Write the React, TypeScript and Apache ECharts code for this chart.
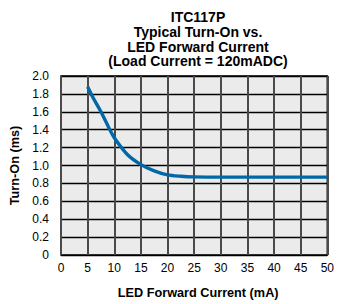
import React, { useEffect, useRef } from "react";
import * as echarts from "echarts";

const titleLines = ["ITC117P", "Typical Turn-On vs.", "LED Forward Current", "(Load Current = 120mADC)"];
const xName = "LED Forward Current (mA)";
const yName = "Turn-On (ms)";
const currentMA = [5, 6, 7.5, 9, 10, 12.5, 15, 17.5, 20, 22.5, 25, 30, 35, 40, 45, 50];
const turnOnMs = [1.88, 1.76, 1.6, 1.42, 1.31, 1.12, 1.01, 0.94, 0.895, 0.88, 0.873, 0.87, 0.87, 0.87, 0.87, 0.87];

export default function App() {
  const ref = useRef<HTMLDivElement>(null);
  useEffect(() => {
    if (!ref.current) return;
    const chart = echarts.init(ref.current, null, { renderer: "svg" });
    const font = "'Liberation Sans', Arial, Helvetica, sans-serif";
    chart.setOption({
      animation: false,
      backgroundColor: "#ffffff",
      title: {
        text: titleLines.join("\n"),
        left: 193,
        top: 5,
        textAlign: "center",
        textStyle: { fontFamily: font, fontSize: 14, fontWeight: "bold", color: "#000", lineHeight: 14.6 },
      },
      grid: { left: 61, right: 5, top: 76, bottom: 47.5, show: true, backgroundColor: "#ebebeb", borderColor: "#000", borderWidth: 1.5 },
      xAxis: {
        type: "value",
        min: 0,
        max: 50,
        interval: 5,
        name: xName,
        nameLocation: "middle",
        nameGap: 31,
        nameTextStyle: { fontFamily: font, fontSize: 12.7, fontWeight: "bold", color: "#000", padding: [0, 0, 0, 8] },
        axisLine: { show: false },
        axisTick: { show: false },
        axisLabel: { fontFamily: font, fontSize: 12, color: "#000", margin: 7 },
        splitLine: { show: true, lineStyle: { color: "#4a4a4a", width: 2 } },
      },
      yAxis: {
        type: "value",
        min: 0,
        max: 2,
        interval: 0.2,
        name: yName,
        nameLocation: "middle",
        nameGap: 38,
        nameTextStyle: { fontFamily: font, fontSize: 12.7, fontWeight: "bold", color: "#000" },
        axisLine: { show: false },
        axisTick: { show: false },
        axisLabel: {
          fontFamily: font,
          fontSize: 12,
          color: "#000",
          margin: 12,
          formatter: (v: number) => (v === 0 ? "0" : v.toFixed(1)),
        },
        splitLine: { show: true, lineStyle: { color: "#000", width: 1.4 } },
      },
      series: [
        {
          type: "line",
          data: currentMA.map((x, i) => [x, turnOnMs[i]]),
          smooth: 0.3,
          showSymbol: false,
          lineStyle: { color: "#0068a8", width: 3.4 },
        },
      ],
    });
    return () => chart.dispose();
  }, []);
  return <div ref={ref} style={{ position: "fixed", left: 0, top: 0, width: 337, height: 304 }} />;
}
